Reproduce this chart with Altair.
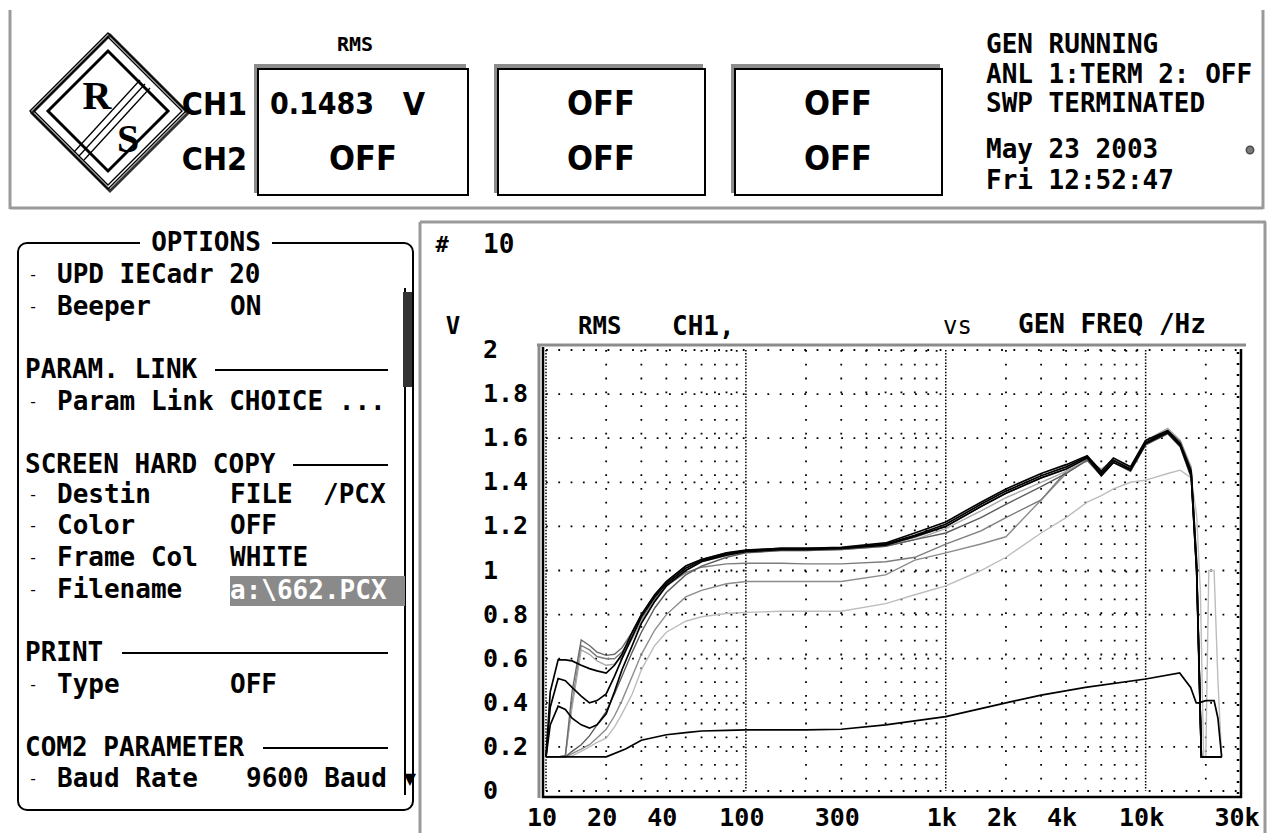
import altair as alt
import pandas as pd

# ---------------- data ----------------
LF = [10, 10.5, 11.5, 12.5, 13.5, 15, 16.5, 18, 20, 22, 24, 27, 30, 35, 40, 50, 60, 80, 100, 150, 200, 300, 500, 700]
HF = [1000, 1500, 2000, 3000, 4000, 5100, 6000, 6900, 8400, 10000, 12900, 14900, 16900, 18000, 19000, 24000]

K2 = [0.155, 0.45, 0.595, 0.595, 0.59, 0.57, 0.555, 0.545, 0.535, 0.57, 0.62, 0.72, 0.80, 0.89, 0.95, 1.02, 1.05, 1.08, 1.093, 1.10, 1.10, 1.10, 1.12, 1.16,
      1.21, 1.30, 1.36, 1.43, 1.47, 1.516, 1.44, 1.50, 1.46, 1.58, 1.63, 1.57, 1.44, 1.00, 0.155, 0.155]
K3 = [0.155, 0.38, 0.51, 0.50, 0.47, 0.43, 0.40, 0.41, 0.44, 0.52, 0.60, 0.70, 0.79, 0.88, 0.94, 1.01, 1.045, 1.075, 1.09, 1.10, 1.10, 1.105, 1.125, 1.17,
      1.22, 1.31, 1.37, 1.44, 1.48, 1.52, 1.45, 1.51, 1.47, 1.59, 1.635, 1.575, 1.45, 1.02, 0.155, 0.155]
K4 = [0.155, 0.30, 0.385, 0.37, 0.33, 0.30, 0.285, 0.30, 0.35, 0.45, 0.55, 0.66, 0.76, 0.86, 0.93, 1.00, 1.04, 1.07, 1.085, 1.095, 1.095, 1.10, 1.115, 1.155,
      1.20, 1.29, 1.35, 1.42, 1.46, 1.51, 1.43, 1.49, 1.455, 1.575, 1.625, 1.565, 1.43, 1.0, 0.155, 0.155]
G1 = [0.155, 0.155, 0.155, 0.16, 0.45, 0.685, 0.66, 0.63, 0.615, 0.62, 0.65, 0.72, 0.80, 0.89, 0.95, 1.02, 1.05, 1.08, 1.09, 1.095, 1.095, 1.10, 1.115, 1.15,
      1.20, 1.29, 1.35, 1.42, 1.46, 1.51, 1.44, 1.50, 1.46, 1.58, 1.635, 1.585, 1.46, 1.05, 0.155, 0.155]
G2 = [0.155, 0.155, 0.155, 0.16, 0.40, 0.66, 0.64, 0.61, 0.60, 0.60, 0.63, 0.70, 0.78, 0.87, 0.93, 0.99, 1.015, 1.03, 1.033, 1.033, 1.03, 1.03, 1.04, 1.06,
      1.12, 1.18, 1.24, 1.32, 1.45, 1.50, 1.44, 1.50, 1.46, 1.58, 1.63, 1.58, 1.45, 1.03, 0.155, 0.155]
G3 = [0.155, 0.155, 0.155, 0.155, 0.17, 0.19, 0.21, 0.24, 0.28, 0.34, 0.41, 0.52, 0.62, 0.73, 0.80, 0.88, 0.91, 0.94, 0.95, 0.95, 0.95, 0.95, 0.98, 1.047,
      1.08, 1.12, 1.153, 1.32, 1.44, 1.50, 1.43, 1.49, 1.45, 1.57, 1.625, 1.57, 1.44, 1.0, 0.155, 0.155]
G4 = [0.155, 0.155, 0.155, 0.155, 0.18, 0.21, 0.25, 0.30, 0.36, 0.44, 0.52, 0.63, 0.72, 0.83, 0.90, 0.98, 1.02, 1.06, 1.08, 1.09, 1.09, 1.095, 1.11, 1.14,
      1.17, 1.24, 1.30, 1.38, 1.44, 1.50, 1.43, 1.49, 1.45, 1.57, 1.62, 1.56, 1.42, 0.98, 0.155, 0.155]
L1 = [0.155, 0.155, 0.155, 0.16, 0.38, 0.64, 0.62, 0.59, 0.57, 0.575, 0.61, 0.69, 0.77, 0.86, 0.93, 1.00, 1.04, 1.07, 1.085, 1.09, 1.09, 1.095, 1.11, 1.14,
      1.19, 1.27, 1.33, 1.40, 1.45, 1.50, 1.46, 1.50, 1.47, 1.59, 1.645, 1.59, 1.47, 1.05, 0.155, 0.155]
L2_F = LF + [1000, 1500, 2000, 3000, 4000, 5100, 6000, 6900, 8400, 10000, 12900, 14900, 16900, 18000, 18800, 19500, 20000, 20700, 22000, 23000, 24000]
L2 = [0.155, 0.155, 0.155, 0.155, 0.16, 0.18, 0.20, 0.22, 0.24, 0.29, 0.35, 0.44, 0.55, 0.66, 0.72, 0.77, 0.79, 0.805, 0.81, 0.815, 0.815, 0.815, 0.85, 0.89,
      0.93, 1.00, 1.06, 1.17, 1.24, 1.31, 1.34, 1.37, 1.40, 1.41, 1.44, 1.455, 1.42, 1.25, 0.9, 0.155, 0.155, 1.0, 1.0, 0.5, 0.155]
K1_F = [10, 20, 25, 30, 40, 50, 60, 80, 100, 200, 300, 500, 1000, 2000, 3000, 5000, 10000, 14800, 16800, 17900, 18500, 20000, 22000, 23000, 24000]
K1 = [0.155, 0.155, 0.19, 0.23, 0.255, 0.265, 0.272, 0.275, 0.277, 0.277, 0.28, 0.30, 0.337, 0.40, 0.435, 0.47, 0.508, 0.535, 0.47, 0.40, 0.40, 0.41, 0.41, 0.33, 0.155]

X_TICK_VALUES = [10, 20, 40, 100, 300, 1000, 2000, 4000, 10000, 30000]
X_TICK_LABELS = ["10", "20", "40", "100", "300", "1k", "2k", "4k", "10k", "30k"]
Y_TICK_VALUES = [0, 0.2, 0.4, 0.6, 0.8, 1.0, 1.2, 1.4, 1.6, 1.8, 2.0]
Y_TICK_LABELS = ["0", "0.2", "0.4", "0.6", "0.8", "1", "1.2", "1.4", "1.6", "1.8", "2"]
GRID_MINOR = [20, 30, 40, 50, 60, 70, 80, 90, 200, 300, 400, 500, 600, 700, 800, 900,
              2000, 3000, 4000, 5000, 6000, 7000, 8000, 9000, 20000, 30000]
GRID_DECADE = [10, 100, 1000, 10000]

# ---------------- build tables ----------------
rows = []
for name, fs, vs in [("K1", K1_F, K1), ("K2", LF + HF, K2), ("K3", LF + HF, K3), ("K4", LF + HF, K4)]:
    for i, (f, v) in enumerate(zip(fs, vs)):
        rows.append({"curve": name, "i": i, "f": f, "v": v})
black_df = pd.DataFrame(rows)
rows = []
for name, fs, vs in [("L2", L2_F, L2), ("G3", LF + HF, G3), ("G2", LF + HF, G2), ("L1", LF + HF, L1),
                     ("G4", LF + HF, G4), ("G1", LF + HF, G1)]:
    for i, (f, v) in enumerate(zip(fs, vs)):
        rows.append({"curve": name, "i": i, "f": f, "v": v})
gray_df = pd.DataFrame(rows)

MONO = "DejaVu Sans Mono"
BIG = "DejaVu Sans Condensed, Liberation Sans Narrow, sans-serif"
SERIF = "Liberation Serif, DejaVu Serif, serif"

xs = alt.Scale(type="log", domain=[10, 30000], range=[546, 1241], nice=False)
ys = alt.Scale(type="linear", domain=[0, 2], range=[791, 350], nice=False, zero=False)

one = pd.DataFrame({"k": [0]})


def T(s, x, y, size=26, font=MONO, align="left", color="black", weight="bold"):
    return alt.Chart(one).mark_text(text=s, fontSize=size, font=font, align=align, baseline="middle",
                                    color=color, fontWeight=weight).encode(x=alt.value(x), y=alt.value(y))


def R(x, y, x2, y2, color="black", w=2, dash=None):
    kw = dict(color=color, strokeWidth=w)
    if dash:
        kw["strokeDash"] = dash
    return alt.Chart(one).mark_rule(**kw).encode(x=alt.value(x), y=alt.value(y), x2=alt.value(x2), y2=alt.value(y2))


def B(x, y, x2, y2, fill="white", stroke=None, w=2, radius=0):
    kw = dict(fill=fill, cornerRadius=radius)
    if stroke:
        kw["stroke"] = stroke
        kw["strokeWidth"] = w
    return alt.Chart(one).mark_rect(**kw).encode(x=alt.value(x), y=alt.value(y), x2=alt.value(x2), y2=alt.value(y2))


def D(x, y, r, w, color="black"):
    return alt.Chart(one).mark_point(shape="diamond", filled=False, size=(2 * r) ** 2, strokeWidth=w,
                                     color=color, opacity=1).encode(x=alt.value(x), y=alt.value(y))


layers = []
GRAY = "#9a9a9a"
# ---------- header ----------
layers += [R(10, 10, 10, 209, GRAY, 3), R(1263, 10, 1263, 209, GRAY, 3), R(10, 208, 1263, 208, GRAY, 3)]
# logo
layers += [D(110, 113, 78, 3, "#333"), D(108, 111, 78, 1.4), D(108, 111, 74, 1.4), D(108, 111, 60, 3)]
layers += [R(74, 152, 140, 80, "black", 1.3), R(79, 156, 145, 84, "black", 1.3), R(84, 160, 150, 88, "black", 1.3)]
layers += [T("R", 97, 97, 40, SERIF, "center"), T("S", 128, 140, 40, SERIF, "center")]
layers += [T("RMS", 355, 45, 20, MONO, "center")]
layers += [T("CH1", 247, 105, 32, BIG, "right"), T("CH2", 247, 160, 32, BIG, "right")]
for (bx0, bx1) in [(258, 468), (498, 705), (735, 942)]:
    layers += [B(bx0 - 4, 64, bx1 - 2, 193, "#8c8c8c"), B(bx0, 69, bx1, 195, "white", "black", 2)]
layers += [T("0.1483", 270, 105, 30, BIG, "left"), T("V", 414, 105, 32, BIG, "center")]
for (cx, cy) in [(363, 160), (601, 105), (601, 160), (838, 105), (838, 160)]:
    layers += [T("OFF", cx, cy, 34, BIG, "center")]
for s, y in [("GEN RUNNING", 45), ("ANL 1:TERM 2: OFF", 75), ("SWP TERMINATED", 104),
             ("May 23 2003", 150), ("Fri 12:52:47", 181)]:
    layers += [T(s, 986, y, 26, MONO, "left", "black", "bold")]
layers += [alt.Chart(one).mark_point(shape="circle", filled=True, size=55, color="#444", stroke="black",
                                     strokeWidth=1.5).encode(x=alt.value(1250), y=alt.value(150))]

# ---------- options panel ----------
layers += [B(18, 243, 413, 810, "white", "black", 2, 9)]
layers += [B(140, 232, 272, 256, "white")]
layers += [T("OPTIONS", 206, 243, 26, MONO, "center")]
# scrollbar
layers += [R(405, 288, 405, 795, "black", 2), B(403, 292, 412, 387, "#333")]
opt_lines = [
    ("UPD IECadr 20", 275), ("Beeper", 307), ("Param Link CHOICE ...", 402),
    ("Destin", 495), ("Color", 526), ("Frame Col", 558), ("Filename", 590),
    ("Type", 685), ("Baud Rate", 779)]
for s, y in opt_lines:
    layers += [T("-", 33, y, 16, MONO, "center", "black", "normal"), T(s, 57, y, 26, MONO, "left", "black", "bold")]
for s, x, y in [("ON", 230, 307), ("FILE", 230, 495), ("/PCX", 323, 495), ("OFF", 230, 526),
                ("WHITE", 230, 558), ("OFF", 230, 685), ("9600 Baud", 246, 779)]:
    layers += [T(s, x, y, 26, MONO, "left")]
layers += [B(230, 576, 405, 606, "#8a8a8a"), T("a:\\662.PCX", 230, 591, 26, MONO, "left", "white", "bold")]
for s, y, x_line in [("PARAM. LINK", 370, 215), ("SCREEN HARD COPY", 465, 293), ("PRINT", 653, 122),
                     ("COM2 PARAMETER", 748, 263)]:
    layers += [T(s, 25, y, 26, MONO, "left"), R(x_line, y, 388, y, "black", 2)]
layers += [T("▼", 410, 779, 16, "DejaVu Sans", "center")]

# ---------- graph panel ----------
layers += [R(420, 222, 1266, 222, GRAY, 3), R(420, 222, 420, 833, GRAY, 3), R(1265, 222, 1265, 833, GRAY, 3)]
layers += [T("#", 442, 245, 22, MONO, "center"), T("10", 483, 245, 26, MONO, "left")]
layers += [T("V", 453, 327, 24, MONO, "center"), T("RMS", 578, 327, 24, MONO, "left"),
           T("CH1,", 672, 327, 26, MONO, "left"), T("vs", 943, 327, 24, MONO, "left", "black", "normal"),
           T("GEN FREQ /Hz", 1018, 325, 26, MONO, "left")]
# frame
layers += [R(537, 345, 1246, 345, "#8c8c8c", 3), R(539, 345, 539, 798, "#8c8c8c", 3),
           R(543, 347, 543, 798, "black", 2.5), R(542, 797, 1242, 797, "black", 2.5),
           R(1241, 349, 1241, 798, "black", 2.5), R(1238, 352, 1238, 795, "black", 2.5, [2, 9])]

grid_h = alt.Chart(pd.DataFrame({"v": Y_TICK_VALUES})).mark_rule(color="black", strokeWidth=1.8, strokeDash=[1.8, 10.5]).encode(
    y=alt.Y("v:Q", scale=ys, axis=None), x=alt.value(546), x2=alt.value(1241))
grid_v = alt.Chart(pd.DataFrame({"f": GRID_MINOR})).mark_rule(color="black", strokeWidth=1.8, strokeDash=[1.8, 12]).encode(
    x=alt.X("f:Q", scale=xs, axis=None), y=alt.value(350), y2=alt.value(791))
grid_d = alt.Chart(pd.DataFrame({"f": GRID_DECADE})).mark_rule(color="black", strokeWidth=1.5, strokeDash=[1.5, 1.6]).encode(
    x=alt.X("f:Q", scale=xs, axis=None), y=alt.value(350), y2=alt.value(791))
layers += [grid_h, grid_v, grid_d]

gray_lines = alt.Chart(gray_df).mark_line(strokeWidth=1.4, interpolate="linear").encode(
    x=alt.X("f:Q", scale=xs, axis=None), y=alt.Y("v:Q", scale=ys, axis=None),
    color=alt.Color("curve:N", scale=alt.Scale(domain=["L2", "G3", "G2", "L1", "G4", "G1"],
                                               range=["#bdbdbd", "#8c8c8c", "#7c7c7c", "#a8a8a8", "#5c5c5c", "#6c6c6c"]),
                    legend=None),
    order="i:Q")
black_lines = alt.Chart(black_df).mark_line(strokeWidth=1.7, color="black").encode(
    x=alt.X("f:Q", scale=xs, axis=None), y=alt.Y("v:Q", scale=ys, axis=None), detail="curve:N", order="i:Q")
layers += [gray_lines, black_lines]

xlab = alt.Chart(pd.DataFrame({"f": X_TICK_VALUES, "t": X_TICK_LABELS})).mark_text(
    font=MONO, fontSize=25, fontWeight="bold", baseline="middle", align="center", dx=-4).encode(
    x=alt.X("f:Q", scale=xs, axis=None), y=alt.value(818), text="t:N")
ylab = alt.Chart(pd.DataFrame({"v": Y_TICK_VALUES, "t": Y_TICK_LABELS})).mark_text(
    font=MONO, fontSize=25, fontWeight="bold", baseline="middle", align="left").encode(
    y=alt.Y("v:Q", scale=ys, axis=None), x=alt.value(483), text="t:N")
layers += [xlab, ylab]

chart = alt.layer(*layers).properties(
    width=1268, height=833, padding=0, autosize=alt.AutoSizeParams(type="none"), background="white"
).configure_view(stroke=None)

chart.save("out.html", embed_options={"renderer": "svg", "actions": False})
